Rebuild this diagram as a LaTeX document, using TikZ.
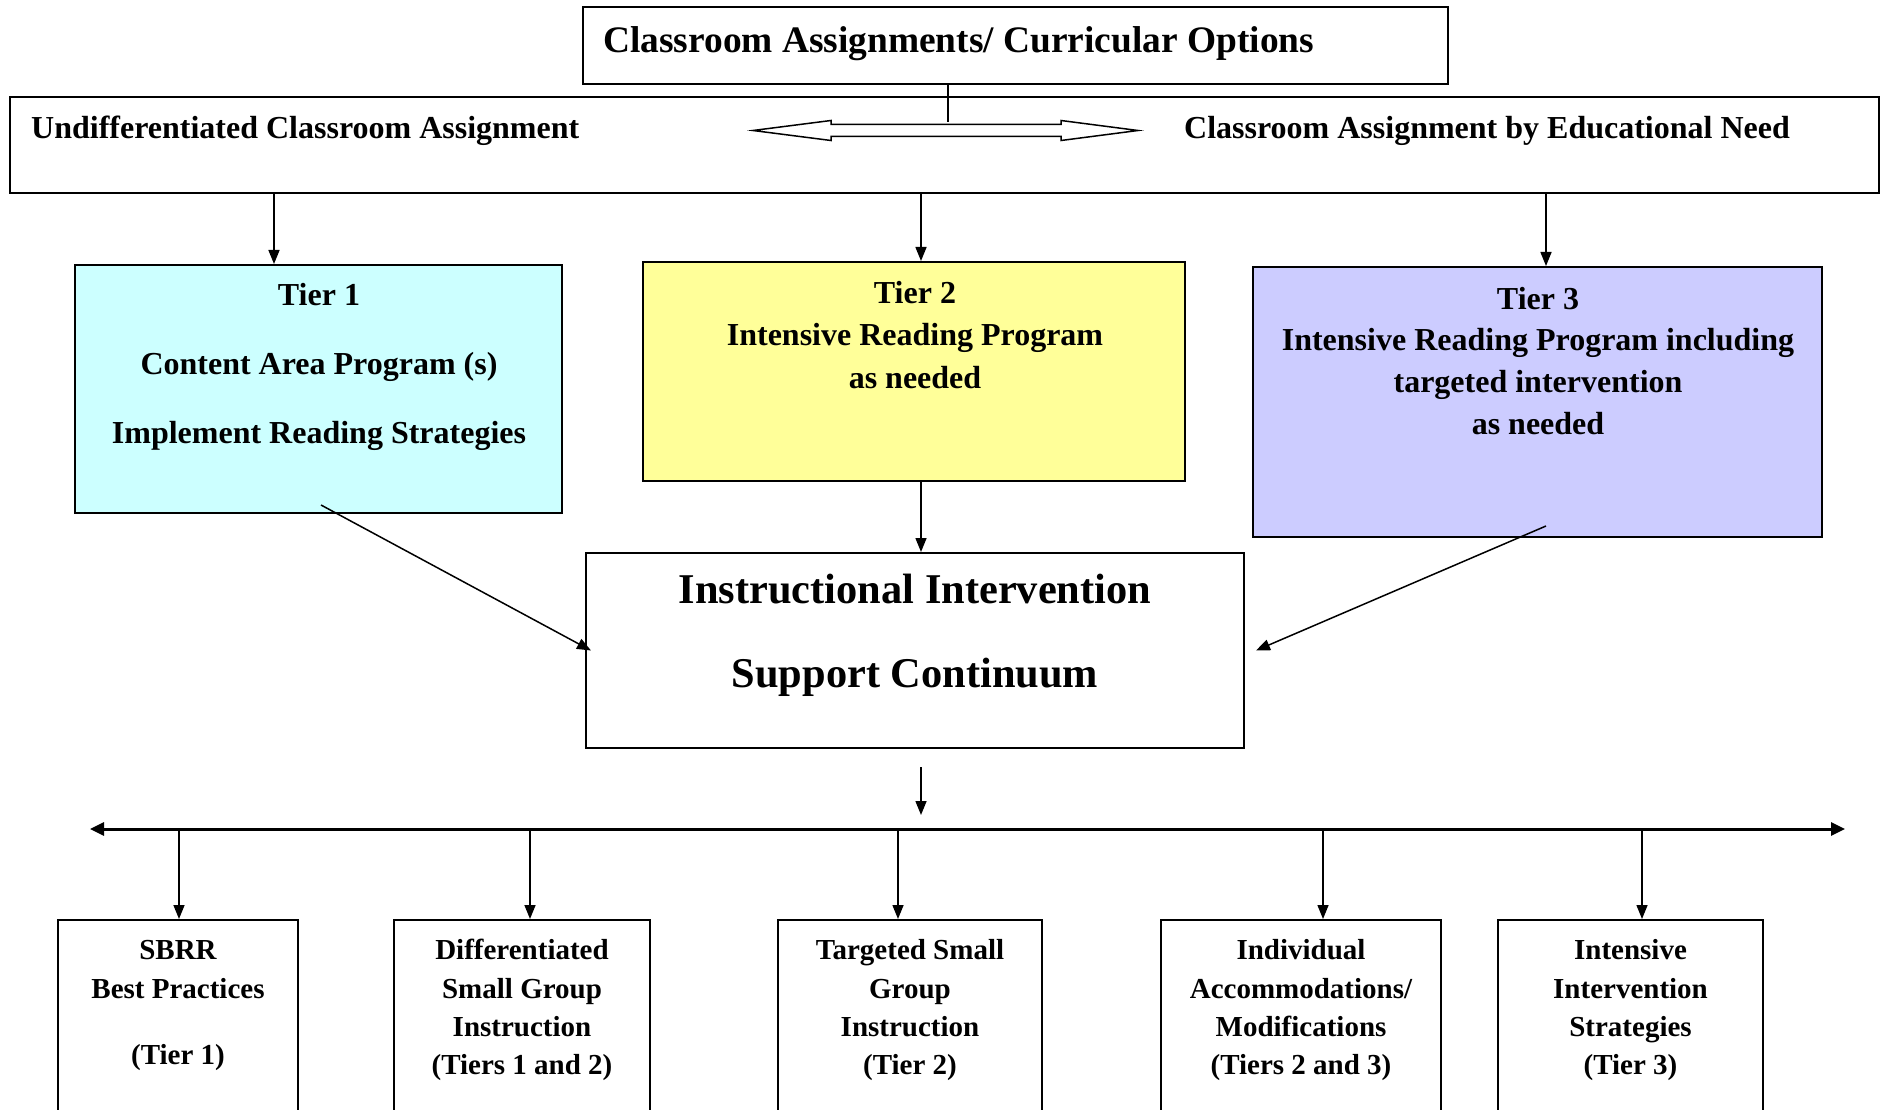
\documentclass[tikz,border=0pt]{standalone}
\usepackage{fontspec}
\setmainfont{Liberation Serif}
\usetikzlibrary{arrows.meta}
\definecolor{tierone}{HTML}{CCFFFF}
\definecolor{tiertwo}{HTML}{FFFF99}
\definecolor{tierthree}{HTML}{CCCCFF}
\begin{document}
\begin{tikzpicture}[x=1pt,y=-1pt,
  box/.style={draw, line width=2pt, rectangle, inner sep=0pt},
  arr/.style={-{Triangle[length=14pt,width=11pt]}, line width=1.5pt},
  biarr/.style={{Triangle[length=14pt,width=13pt]}-{Triangle[length=14pt,width=13pt]}, line width=3pt},
  txt/.style={anchor=base, inner sep=0pt, font=\bfseries\fontsize{32}{38}\selectfont},
  ttl/.style={txt, font=\bfseries\fontsize{37.4}{44}\selectfont},
  big/.style={txt, font=\bfseries\fontsize{42.4}{50}\selectfont},
  small/.style={txt, font=\bfseries\fontsize{29}{35}\selectfont}]
\clip (0,0) rectangle (1885,1110);
\fill[white] (0,0) rectangle (1885,1110);

% boxes
\node[box, minimum width=865pt, minimum height=77pt] (top) at (1015.5,45.5) {};
\node[box, minimum width=1869pt, minimum height=96pt] (wide) at (944.5,145) {};
\node[box, fill=tierone, minimum width=487pt, minimum height=248pt] (t1) at (318.5,389) {};
\node[box, fill=tiertwo, minimum width=542pt, minimum height=219pt] (t2) at (914,371.5) {};
\node[box, fill=tierthree, minimum width=569pt, minimum height=270pt] (t3) at (1537.5,402) {};
\node[box, minimum width=658pt, minimum height=195pt] (ctr) at (915,650.5) {};
\node[box, minimum width=240pt, minimum height=230pt] (b1) at (178,1035) {};
\node[box, minimum width=256pt, minimum height=230pt] (b2) at (522,1035) {};
\node[box, minimum width=264pt, minimum height=230pt] (b3) at (910,1035) {};
\node[box, minimum width=280pt, minimum height=230pt] (b4) at (1301,1035) {};
\node[box, minimum width=265pt, minimum height=230pt] (b5) at (1630.5,1035) {};

% texts
\node[ttl, anchor=base west] (title) at (603,53) {Classroom Assignments/ Curricular Options};
\node[txt, anchor=base west] (undiff) at (31,139) {Undifferentiated Classroom Assignment};
\node[txt, anchor=base west] (byneed) at (1184,139) {Classroom Assignment by Educational Need};

\node[txt] (t1a) at (319,305) {Tier 1};
\node[txt] (t1b) at (319,374) {Content Area Program (s)};
\node[txt] (t1c) at (319,443) {Implement Reading Strategies};

\node[txt] (t2a) at (915,303) {Tier 2};
\node[txt] (t2b) at (915,345) {Intensive Reading Program};
\node[txt] (t2c) at (915,388) {as needed};

\node[txt] (t3a) at (1538,309) {Tier 3};
\node[txt] (t3b) at (1538,350) {Intensive Reading Program including};
\node[txt] (t3c) at (1538,392) {targeted intervention};
\node[txt] (t3d) at (1538,434) {as needed};

\node[big] (ca) at (915,603) {Instructional Intervention};
\node[big] (cb) at (915,687) {Support Continuum};

\node[small] (b1a) at (178,959) {SBRR};
\node[small] (b1b) at (178,998) {Best Practices};
\node[small] (b1c) at (178,1064) {(Tier 1)};

\node[small] (b2a) at (522,959) {Differentiated};
\node[small] (b2b) at (522,998) {Small Group};
\node[small] (b2c) at (522,1036) {Instruction};
\node[small] (b2d) at (522,1074) {(Tiers 1 and 2)};

\node[small] (b3a) at (910,959) {Targeted Small};
\node[small] (b3b) at (910,998) {Group};
\node[small] (b3c) at (910,1036) {Instruction};
\node[small] (b3d) at (910,1074) {(Tier 2)};

\node[small] (b4a) at (1301,959) {Individual};
\node[small] (b4b) at (1301,998) {Accommodations/};
\node[small] (b4c) at (1301,1036) {Modifications};
\node[small] (b4d) at (1301,1074) {(Tiers 2 and 3)};

\node[small] (b5a) at (1630.5,959) {Intensive};
\node[small] (b5b) at (1630.5,998) {Intervention};
\node[small] (b5c) at (1630.5,1036) {Strategies};
\node[small] (b5d) at (1630.5,1074) {(Tier 3)};

% double arrow between the two assignments
\draw[line width=1.5pt, fill=white] (753,130.5) -- (831,120.5) -- (831,124.5) -- (1061,124.5)
  -- (1061,120.5) -- (1138,130.5) -- (1061,140.5) -- (1061,136.5) -- (831,136.5)
  -- (831,140.5) -- cycle;
\coordinate (stem) at (948,122);
\draw[line width=1.5pt] (top.south -| stem) -- (stem);

% arrows to tiers
\coordinate (x1) at (274,0);
\coordinate (x2) at (921,0);
\coordinate (x3) at (1546,0);
\draw[arr] (wide.south -| x1) -- (t1.north -| x1);
\draw[arr] (wide.south -| x2) -- (t2.north -| x2);
\draw[arr] (wide.south -| x3) -- (t3.north -| x3);

% tiers to centre
\draw[arr] (t2.south -| x2) -- (ctr.north -| x2);
\coordinate (s1) at (321,505);
\coordinate (s3) at (1546,526);
\draw[arr] (s1) -- ([xshift=6pt]ctr.west);
\draw[arr] (s3) -- ([xshift=11pt]ctr.east);

% centre to continuum line
\coordinate (d0) at (921,767);
\coordinate (d1) at (921,815);
\draw[arr] (d0) -- (d1);
\coordinate (lineL) at (90,829);
\coordinate (lineR) at (1845,829);
\draw[biarr] (lineL) -- (lineR);

% continuum to bottom boxes
\foreach \b/\x in {b1/179, b2/530, b3/898, b4/1323, b5/1642}{
  \coordinate (p\b) at (\x,829);
  \draw[arr] (p\b) -- (\b.north -| p\b);
}
\end{tikzpicture}
\end{document}
